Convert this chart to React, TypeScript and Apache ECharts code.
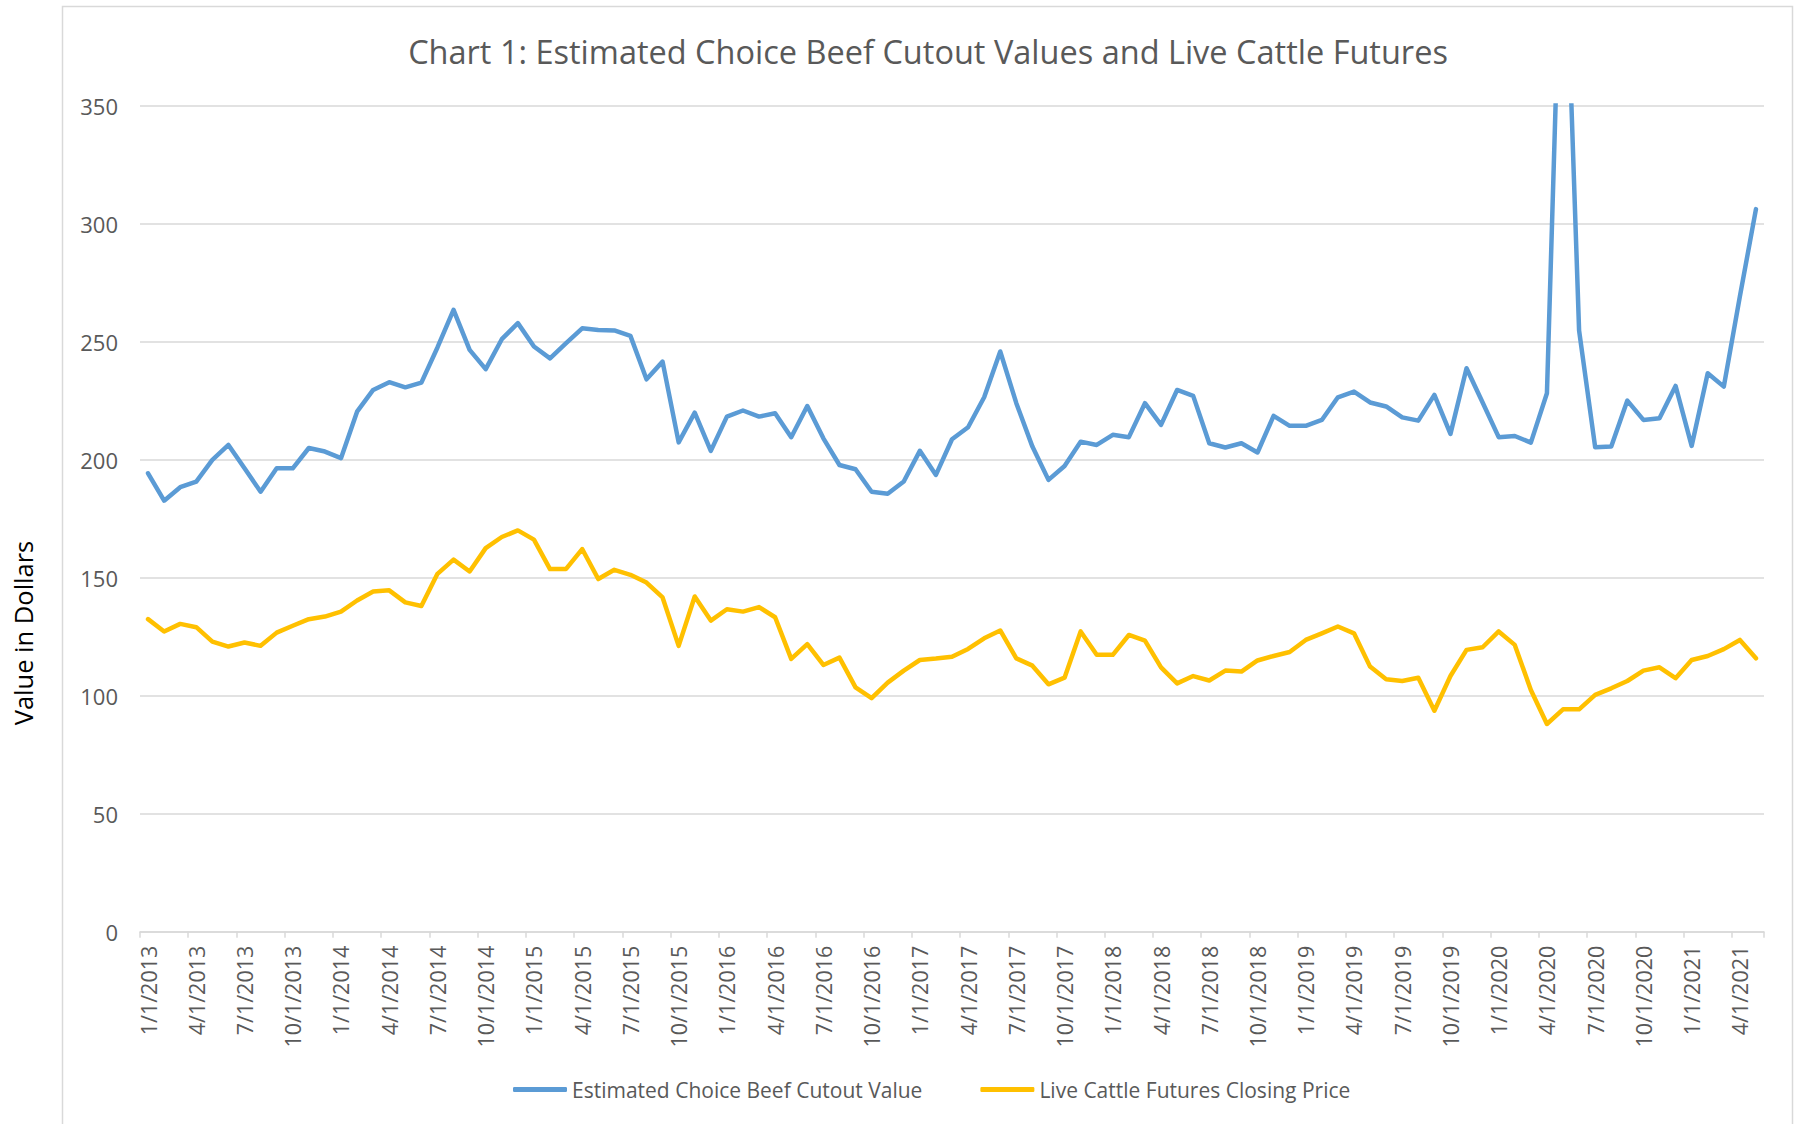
import React, { useEffect, useRef } from "react";
import * as echarts from "echarts";

const categories = [
  "1/1/2013","2/1/2013","3/1/2013","4/1/2013","5/1/2013","6/1/2013","7/1/2013","8/1/2013","9/1/2013","10/1/2013","11/1/2013","12/1/2013",
  "1/1/2014","2/1/2014","3/1/2014","4/1/2014","5/1/2014","6/1/2014","7/1/2014","8/1/2014","9/1/2014","10/1/2014","11/1/2014","12/1/2014",
  "1/1/2015","2/1/2015","3/1/2015","4/1/2015","5/1/2015","6/1/2015","7/1/2015","8/1/2015","9/1/2015","10/1/2015","11/1/2015","12/1/2015",
  "1/1/2016","2/1/2016","3/1/2016","4/1/2016","5/1/2016","6/1/2016","7/1/2016","8/1/2016","9/1/2016","10/1/2016","11/1/2016","12/1/2016",
  "1/1/2017","2/1/2017","3/1/2017","4/1/2017","5/1/2017","6/1/2017","7/1/2017","8/1/2017","9/1/2017","10/1/2017","11/1/2017","12/1/2017",
  "1/1/2018","2/1/2018","3/1/2018","4/1/2018","5/1/2018","6/1/2018","7/1/2018","8/1/2018","9/1/2018","10/1/2018","11/1/2018","12/1/2018",
  "1/1/2019","2/1/2019","3/1/2019","4/1/2019","5/1/2019","6/1/2019","7/1/2019","8/1/2019","9/1/2019","10/1/2019","11/1/2019","12/1/2019",
  "1/1/2020","2/1/2020","3/1/2020","4/1/2020","5/1/2020","6/1/2020","7/1/2020","8/1/2020","9/1/2020","10/1/2020","11/1/2020","12/1/2020",
  "1/1/2021","2/1/2021","3/1/2021","4/1/2021","5/1/2021",
];

const beefCutout = [
  194.2, 182.6, 188.3, 190.7, 199.9, 206.2, 196.3, 186.4, 196.3, 196.3,
  204.9, 203.4, 200.6, 220.3, 229.5, 232.8, 230.6, 232.6, 247.5, 263.4,
  246.5, 238.3, 251.0, 257.8, 247.9, 242.9, 249.3, 255.6, 254.9, 254.7,
  252.4, 234.0, 241.5, 207.3, 219.9, 203.7, 218.2, 220.8, 218.2, 219.6,
  209.5, 222.7, 209.0, 197.7, 195.9, 186.4, 185.5, 190.7, 203.7, 193.5,
  208.6, 213.7, 226.4, 245.8, 223.9, 205.5, 191.4, 197.3, 207.6, 206.2,
  210.5, 209.5, 223.9, 214.7, 229.5, 227.0, 206.9, 205.1, 206.9, 203.0,
  218.5, 214.3, 214.3, 216.8, 226.4, 228.8, 224.2, 222.5, 217.9, 216.5,
  227.4, 210.9, 238.7, 224.2, 209.5, 210.0, 207.2, 228.1, 455.0, 254.7,
  205.2, 205.5, 225.0, 216.8, 217.5, 231.2, 205.8, 236.6, 230.9, 269.1, 306.1,
];

const cattleFutures = [
  132.4, 127.2, 130.4, 129.0, 122.9, 120.8, 122.5, 121.1, 126.7, 129.6,
  132.4, 133.5, 135.6, 140.3, 144.1, 144.6, 139.5, 138.0, 151.6, 157.6,
  152.6, 162.5, 167.2, 170.0, 166.1, 153.6, 153.7, 162.1, 149.4, 153.3,
  151.2, 147.9, 141.6, 121.1, 142.0, 131.8, 136.6, 135.6, 137.5, 133.2,
  115.6, 121.8, 113.0, 116.1, 103.5, 98.9, 105.5, 110.6, 115.1, 115.7,
  116.5, 119.8, 124.3, 127.6, 115.8, 112.7, 104.8, 107.6, 127.2, 117.3,
  117.3, 125.7, 123.3, 112.0, 105.2, 108.3, 106.4, 110.6, 110.2, 114.9,
  116.8, 118.5, 123.6, 126.4, 129.3, 126.4, 112.3, 106.9, 106.2, 107.6,
  93.6, 108.3, 119.4, 120.5, 127.2, 121.5, 102.4, 88.0, 94.2, 94.2,
  100.3, 103.1, 106.2, 110.6, 112.0, 107.4, 115.1, 116.8, 119.7, 123.6, 115.8,
];

const seriesNames = ["Estimated Choice Beef Cutout Value", "Live Cattle Futures Closing Price"];
const titleText = "Chart 1: Estimated Choice Beef Cutout Values and Live Cattle Futures";
const yAxisTitle = "Value in Dollars";

export default function App() {
  const ref = useRef<HTMLDivElement>(null);
  useEffect(() => {
    if (!ref.current) return;
    const chart = echarts.init(ref.current, null, { renderer: "svg" });
    const font = "'Open Sans', 'Noto Sans', sans-serif";
    chart.setOption({
      animation: false,
      backgroundColor: "#ffffff",
      graphic: [
        {
          type: "rect",
          shape: { x: 62.5, y: 6.5, width: 1730, height: 1200 },
          style: { fill: "none", stroke: "#d9d9d9", lineWidth: 1.5 },
          silent: true,
        },
        {
          type: "text",
          x: 928,
          y: 51.5,
          style: {
            text: titleText,
            fontFamily: font,
            fontSize: 32.5,
            fill: "#595959",
            align: "center",
            verticalAlign: "middle",
          },
        },
        {
          type: "text",
          x: 23,
          y: 633,
          rotation: Math.PI / 2,
          style: {
            text: yAxisTitle,
            fontFamily: font,
            fontSize: 25.5,
            fill: "#000000",
            align: "center",
            verticalAlign: "middle",
          },
        },
      ],
      legend: {
        data: seriesNames,
        left: 508,
        top: 1074,
        icon: "roundRect",
        itemWidth: 54,
        itemHeight: 5,
        itemGap: 58,
        textStyle: { fontFamily: font, fontSize: 21, color: "#595959" },
      },
      grid: { left: 140, right: 30, top: 105.5, bottom: 192.3, containLabel: false },
      xAxis: {
        type: "category",
        data: categories,
        boundaryGap: true,
        axisLine: { lineStyle: { color: "#d9d9d9", width: 1.5 } },
        axisTick: { show: true, interval: 2, length: 6, lineStyle: { color: "#d9d9d9", width: 1.5 } },
        axisLabel: {
          interval: 2,
          rotate: 90,
          margin: 14,
          fontFamily: font,
          fontSize: 21.5,
          color: "#595959",
        },
      },
      yAxis: {
        type: "value",
        min: 0,
        max: 350,
        interval: 50,
        axisLine: { show: false },
        axisTick: { show: false },
        splitLine: { lineStyle: { color: "#d9d9d9", width: 1.5 } },
        axisLabel: { margin: 22, fontFamily: font, fontSize: 22, color: "#595959" },
      },
      series: [
        {
          name: seriesNames[0],
          type: "line",
          data: beefCutout,
          showSymbol: false,
          symbol: "none",
          clip: true,
          color: "#5B9BD5",
          lineStyle: { width: 4.5, color: "#5B9BD5", cap: "round", join: "round" },
        },
        {
          name: seriesNames[1],
          type: "line",
          data: cattleFutures,
          showSymbol: false,
          symbol: "none",
          clip: true,
          color: "#FFC000",
          lineStyle: { width: 4.5, color: "#FFC000", cap: "round", join: "round" },
        },
      ],
    });
    return () => chart.dispose();
  }, []);
  return (
    <div
      ref={ref}
      style={{ position: "fixed", left: 0, top: 0, width: 1794, height: 1124, background: "#fff" }}
    />
  );
}
